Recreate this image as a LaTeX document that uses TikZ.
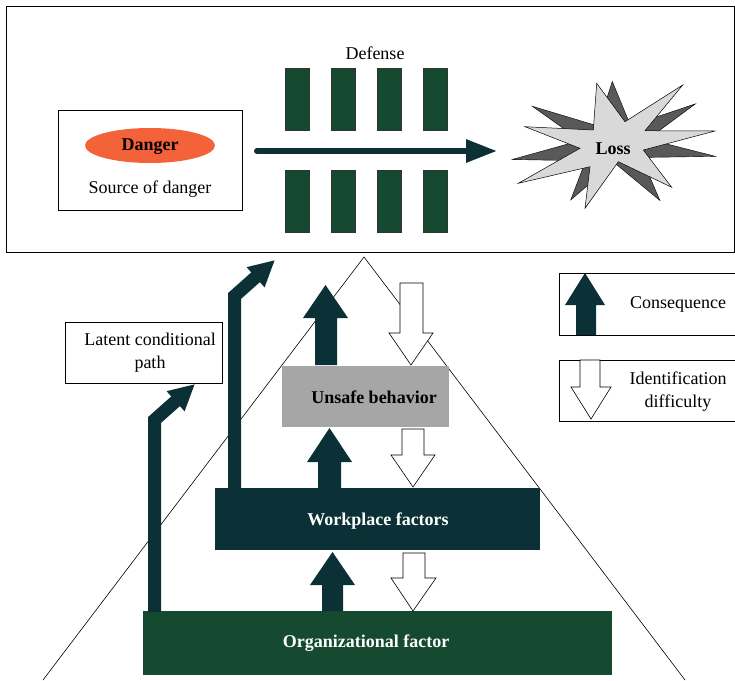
\documentclass[tikz,border=0pt]{standalone}
\usepackage{fontspec}
\setmainfont{Liberation Serif}
\usetikzlibrary{arrows.meta,shapes.geometric}
\definecolor{teal}{HTML}{0B3036}
\definecolor{dgreen}{HTML}{154A31}
\definecolor{orng}{HTML}{F4623A}
\definecolor{gbox}{HTML}{A6A6A6}
\definecolor{starlight}{HTML}{D9D9D9}
\definecolor{stardark}{HTML}{595959}
\begin{document}
\begin{tikzpicture}[x=1pt,y=-1pt,
  txt/.style={font=\fontsize{18}{23}\selectfont, align=center, inner sep=0pt},
  btxt/.style={txt, font=\fontsize{18}{23}\selectfont\bfseries},
  bar/.style={fill=dgreen, draw=black!80, line width=0.4pt},
  upar/.style={fill=teal, draw=none},
  dnar/.style={fill=white, draw=black, line width=0.6pt},
  latent/.style={draw=teal, line width=13pt, line join=miter, -{Triangle[length=26pt,width=25pt]}},
  frame/.style={draw=black, line width=0.6pt}
]
\useasboundingbox (0,0) rectangle (735,680);

% triangle (behind everything)
\coordinate (apex) at (364,257);
\coordinate (bl) at (43,680);
\coordinate (br) at (685,680);
\draw[line width=0.6pt] (bl) -- (apex) -- (br);

% top frame
\draw[frame] (6,6) rectangle (734,252);

% source of danger box
\node[frame, draw, minimum width=184pt, minimum height=100pt, inner sep=0pt] (src) at (150,160) {};
\node[ellipse, fill=orng, minimum width=130pt, minimum height=35pt, inner sep=0pt] (danger) at (150,145.5) {};
\node[btxt] (dangert) at (150,147) {Danger};
\node[txt] (srct) at (150,189) {Source of danger};

% defense
\node[txt] (def) at (375,53) {Defense};
\foreach \x [count=\i] in {285,331,377,423}{
  \node[bar, minimum width=24pt, minimum height=62.5pt, inner sep=0pt, anchor=north west] (dt\i) at (\x,67.5) {};
  \node[bar, minimum width=24pt, minimum height=62pt, inner sep=0pt, anchor=north west] (db\i) at (\x,170) {};
}

% loss star
\coordinate (starc) at (612,146);
\begin{scope}[rotate around={-14:(starc)}]
\fill[stardark, draw=black, line width=0.4pt] (596.7,83.3) -- (625,121.7) -- (682.7,85) -- (645,130.7) -- (715,131) -- (643.3,150) -- (671.7,187.3) -- (618.3,161.7) -- (585,208.3) -- (590,166.7) -- (518.3,183.3) -- (580,148.3) -- (525,126.7) -- (593.3,130) -- cycle;
\end{scope}
\fill[starlight, draw=black, line width=0.5pt] (596.7,83.3) -- (625,121.7) -- (682.7,85) -- (645,130.7) -- (715,131) -- (643.3,150) -- (671.7,187.3) -- (618.3,161.7) -- (585,208.3) -- (590,166.7) -- (518.3,183.3) -- (580,148.3) -- (525,126.7) -- (593.3,130) -- cycle;
\node[btxt] (loss) at (613,149) {Loss};

% main arrow
\coordinate (arrs) at (257,151);
\coordinate (arre) at (497,151);
\draw[teal, line width=6pt, line cap=round, -{Triangle[length=31pt,width=22pt]}] (arrs) -- (arre);

% boxes of the pyramid
\node[fill=gbox, minimum width=167pt, minimum height=61pt, inner sep=0pt, anchor=north west] (unsafe) at (282,366) {};
\node[btxt] at (374,397) {Unsafe behavior};
\node[fill=teal, minimum width=325pt, minimum height=62pt, inner sep=0pt, anchor=north west] (work) at (215,488) {};
\node[btxt, text=white] at (378,521) {Workplace factors};
\node[fill=dgreen, minimum width=469pt, minimum height=64pt, inner sep=0pt, anchor=north west] (org) at (143,611) {};
\node[btxt, text=white] at (366,643) {Organizational factor};

% up arrows (consequence)
\fill[upar] (315,365) -- (315,318) -- (303,318) -- (325.5,285) -- (348,318) -- (337,318) -- (337,365) -- cycle;
\fill[upar] (318,488) -- (318,462) -- (307,462) -- (329.5,428) -- (352,462) -- (341,462) -- (341,488) -- cycle;
\fill[upar] (322,611) -- (322,585) -- (310,585) -- (332.5,552) -- (355,585) -- (343,585) -- (343,611) -- cycle;

% down arrows (identification difficulty)
\filldraw[dnar] (400,283) -- (423,283) -- (423,333) -- (433,333) -- (411,365) -- (389,333) -- (400,333) -- cycle;
\filldraw[dnar] (402,429) -- (424,429) -- (424,455) -- (435,455) -- (413,487) -- (391,455) -- (402,455) -- cycle;
\filldraw[dnar] (403,553) -- (425,553) -- (425,578) -- (436,578) -- (413,611) -- (391,578) -- (403,578) -- cycle;

% latent conditional path
\node[frame, draw, minimum width=157pt, minimum height=61pt, inner sep=0pt, anchor=north west] (latbox) at (65,322) {};
\node[txt] (latt) at (150,353) {Latent conditional\\path};
\coordinate (la0) at (154.5,612);
\coordinate (la1) at (154.5,420);
\coordinate (la2) at (195,384);
\draw[latent] (la0) -- (la1) -- (la2);
\coordinate (lb0) at (234.5,488);
\coordinate (lb1) at (234.5,296);
\coordinate (lb2) at (275,260);
\draw[latent] (lb0) -- (lb1) -- (lb2);

% legend
\node[frame, draw, minimum width=181pt, minimum height=62pt, inner sep=0pt, anchor=north west] (leg1) at (559,273) {};
\fill[upar] (576,335) -- (576,305) -- (565,305) -- (585,273) -- (605,305) -- (596,305) -- (596,335) -- cycle;
\node[txt] (cons) at (678,304) {Consequence};
\node[frame, draw, minimum width=181pt, minimum height=61pt, inner sep=0pt, anchor=north west] (leg2) at (559,360) {};
\filldraw[dnar] (580,360) -- (600,360) -- (600,387) -- (611,387) -- (591,419) -- (571,387) -- (580,387) -- cycle;
\node[txt] (ident) at (678,392) {Identification\\difficulty};
\end{tikzpicture}
\end{document}
